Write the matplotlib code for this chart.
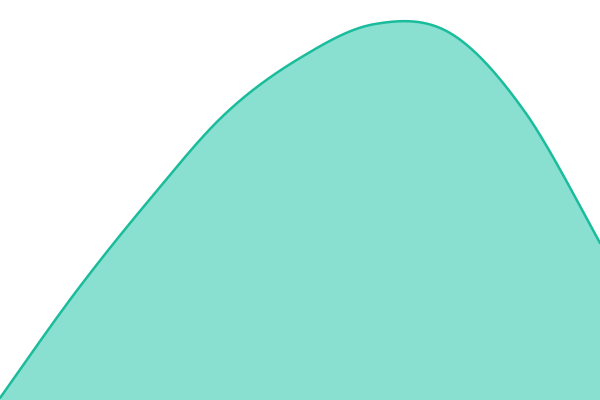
import numpy as np
import matplotlib
matplotlib.use("Agg")
import matplotlib.pyplot as plt

# Data (series values, arbitrary units; 9 equally spaced samples)
x_vals = [0, 1, 2, 3, 4, 5, 6, 7, 8]
y_vals = [2, 107, 201, 286, 342, 376, 367, 288, 157]

LINE = "#1abc9c"
FILL = "#89e0d0"


def cardinal_curve(xs, ys, n=60):
    """Cubic Bezier smoothing through the points (Catmull-Rom / cardinal, tension 0)."""
    xs = np.asarray(xs, float)
    ys = np.asarray(ys, float)
    px = np.concatenate([[xs[0]], xs, [xs[-1]]])
    py = np.concatenate([[ys[0]], ys, [ys[-1]]])
    out_x, out_y = [], []
    t = np.linspace(0, 1, n)
    for i in range(1, len(px) - 2):
        p0x, p1x, p2x, p3x = px[i - 1], px[i], px[i + 1], px[i + 2]
        p0y, p1y, p2y, p3y = py[i - 1], py[i], py[i + 1], py[i + 2]
        c1x = p1x + (p2x - p0x) / 6
        c1y = p1y + (p2y - p0y) / 6
        c2x = p2x - (p3x - p1x) / 6
        c2y = p2y - (p3y - p1y) / 6
        b0 = (1 - t) ** 3
        b1 = 3 * (1 - t) ** 2 * t
        b2 = 3 * (1 - t) * t ** 2
        b3 = t ** 3
        out_x.append(b0 * p1x + b1 * c1x + b2 * c2x + b3 * p2x)
        out_y.append(b0 * p1y + b1 * c1y + b2 * c2y + b3 * p2y)
    return np.concatenate(out_x), np.concatenate(out_y)


fig = plt.figure(figsize=(6, 4), dpi=100)
ax = fig.add_axes([0, 0, 1, 1])
cx, cy = cardinal_curve(x_vals, y_vals)
ax.fill_between(cx, 0, cy, color=FILL, linewidth=0)
ax.plot(cx, cy, color=LINE, linewidth=1.8, solid_capstyle="round")
ax.set_xlim(x_vals[0], x_vals[-1])
ax.set_ylim(0, 400)
ax.axis("off")
fig.savefig("out.png", dpi=100)
